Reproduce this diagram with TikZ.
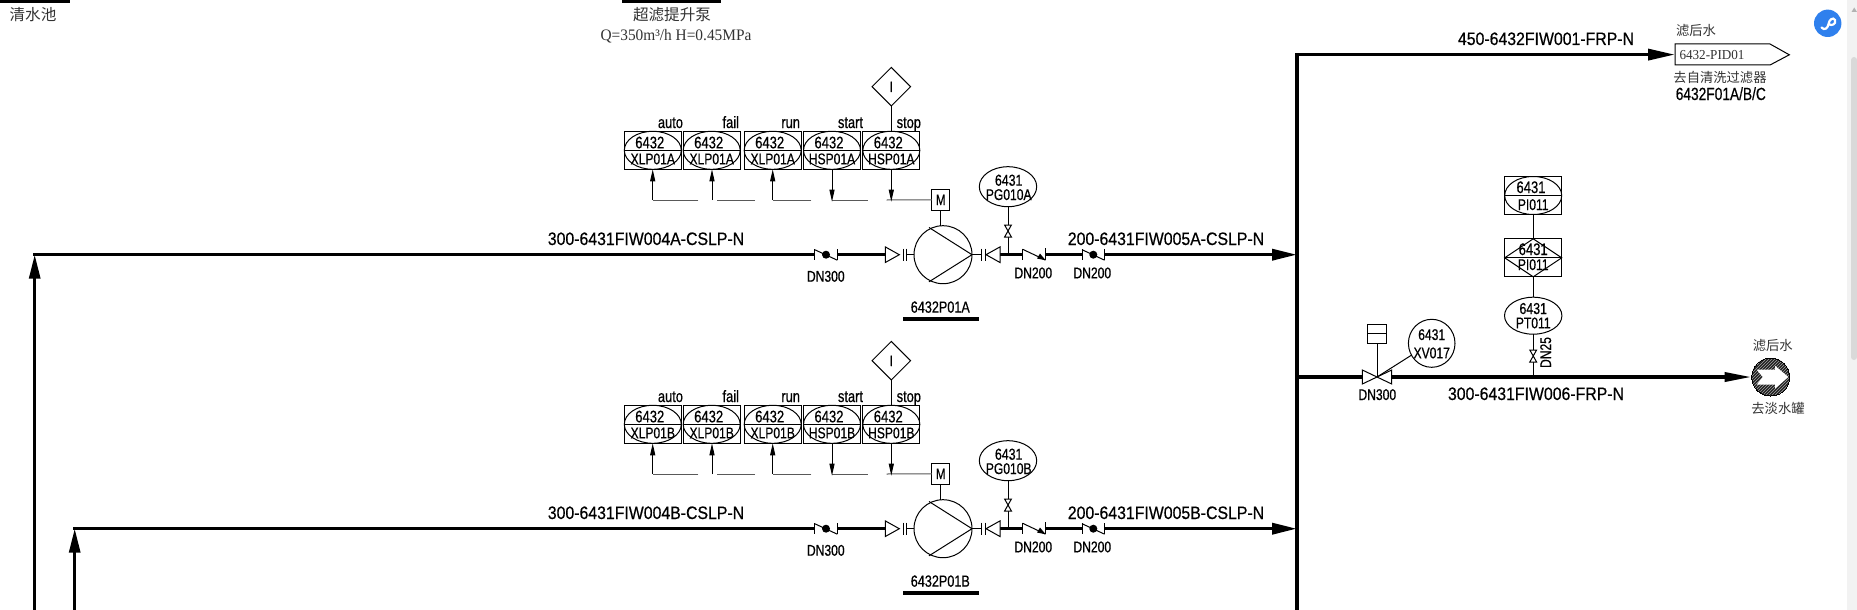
\documentclass[tikz,border=0pt]{standalone}
\usepackage{fontspec}
\usetikzlibrary{arrows.meta,patterns,shapes.geometric}
\setmainfont{Liberation Sans}
\newfontfamily\cad[FakeStretch=0.78,FakeBold=0.5]{Liberation Sans}
\newfontfamily\cadw[FakeStretch=0.88,FakeBold=0.5]{Liberation Sans}
\newfontfamily\ser[FakeStretch=0.96]{Liberation Serif}
\newfontfamily\cjk{Noto Sans CJK SC}
\definecolor{sig}{gray}{0.35}
\definecolor{cjkgray}{gray}{0.2}
\definecolor{linkblue}{HTML}{2F80ED}
\tikzset{
  x=1pt,y=-1pt,
  thin line/.style={line width=1pt,black},
  pipe/.style={line width=3.5pt,black},
  pipearrow/.style={pipe,-{Triangle[length=25pt,width=11pt]}},
  signal/.style={line width=1pt,sig},
  sigup/.style={line width=1pt,black,-{Triangle[length=12pt,width=5pt]}},
  txt/.style={inner sep=0pt,outer sep=0pt,anchor=base},
  tag/.style={txt,font=\cad\fontsize{15.5}{15.5}\selectfont},
  num/.style={txt,font=\cad\fontsize{16.7}{16.7}\selectfont},
  lab/.style={txt,anchor=base east,font=\cad\fontsize{16.5}{16.5}\selectfont},
  pipelabel/.style={txt,font=\cadw\fontsize{18}{18}\selectfont},
  cn/.style={inner sep=0pt,outer sep=0pt,text=cjkgray,font=\cjk\fontsize{13.3}{13.3}\selectfont},
  cnbig/.style={inner sep=0pt,outer sep=0pt,text=cjkgray,font=\cjk\fontsize{15.6}{15.6}\selectfont},
  box/.style={draw,thin line,inner sep=0pt,outer sep=0pt,minimum width=57pt,minimum height=38pt},
}
% instrument in a square: name, centre x, centre y, upper text, lower text
\newcommand{\instrbox}[5]{%
  \node[box] (#1) at (#2,#3) {};
  \draw[thin line] (#1.center) ellipse [x radius=28.5pt,y radius=19pt];
  \draw[thin line] (#1.west) -- (#1.east);
  \node[num] (#1u) at ([shift={(-3,-2)}]#1.center) {#4};
  \node[tag] (#1l) at ([shift={(0,14)}]#1.center) {#5};
}
\newcommand{\bowtieV}[2]{%
  \draw[thin line,fill=white] (#1-3.4,#2-6) -- (#1+3.4,#2-6) -- (#1-3.4,#2+6) -- (#1+3.4,#2+6) -- cycle;
}
\newcommand{\dotcheck}[2]{% left x, pipe y
  \draw[thin line] (#1,#2-5.5) -- (#1,#2+5.5);
  \draw[thin line] (#1+22.6,#2-5.5) -- (#1+22.6,#2+5.5);
  \draw[thin line] (#1,#2-5) -- (#1+22.6,#2+5.5);
  \fill (#1+11.3,#2) circle (4pt);
}
\newcommand{\pumptrain}[2]{%
\begin{scope}[shift={(0,#2)}]
  % pipe
  \coordinate (c#1) at (814.7,254.7);
  \coordinate (d#1) at (837.3,254.7);
  \coordinate (e#1) at (885.3,254.7);
  \coordinate (f#1) at (1000,254.7);
  \coordinate (g#1) at (1022.7,254.7);
  \coordinate (h#1) at (1045.3,254.7);
  \coordinate (i#1) at (1082,254.7);
  \coordinate (j#1) at (1104.6,254.7);
  \coordinate (k#1) at (1297,254.7);
  \draw[pipe] (d#1) -- (e#1);
  \draw[pipe] (f#1) -- (g#1);
  \draw[pipe] (h#1) -- (i#1);
  \draw[pipearrow] (j#1) -- (k#1);
  \dotcheck{814.7}{254.7}
  \dotcheck{1082}{254.7}
  % nozzle check valve
  \draw[thin line] (1022.7,248.7) -- (1022.7,260);
  \draw[thin line] (1045.3,248) -- (1045.3,259.5);
  \draw[thin line] (1022.7,249.3) -- (1045.3,260);
  \fill (1045.6,260.3) -- (1037,258.5) -- (1040,253.5) -- cycle;
  % pump
  \node[draw,thin line,circle,minimum size=58pt,inner sep=0pt,outer sep=0pt] (pump#1) at (943,254.7) {};
  \draw[thin line] (929,227.5) -- (pump#1.east) -- (929,281.8);
  \draw[thin line,fill=white] (885.3,246.9) -- (885.3,262.5) -- (899.3,254.7) -- cycle;
  \draw[thin line] (903.4,248.7) -- (903.4,260.7);
  \draw[thin line] (906.6,248.7) -- (906.6,260.7);
  \draw[thin line] (906.6,254.7) -- (pump#1.west);
  \draw[thin line] (pump#1.east) -- (981.3,254.7);
  \draw[thin line] (981.3,248.7) -- (981.3,260.7);
  \draw[thin line] (985.7,248.7) -- (985.7,260.7);
  \draw[thin line,fill=white] (1000,246.9) -- (1000,262.5) -- (986,254.7) -- cycle;
  % motor
  \node[draw,thin line,minimum width=17.5pt,minimum height=21pt,inner sep=0pt,outer sep=0pt] (motor#1) at (940.7,199.8) {};
  \node[txt,font=\cad\fontsize{15}{15}\selectfont] (mtext#1) at (940.7,205) {M};
  \draw[thin line] (motor#1.south) -- (motor#1.south |- pump#1.north);
  % pressure gauge
  \node[draw,thin line,ellipse,minimum width=57.4pt,minimum height=40pt,inner sep=0pt,outer sep=0pt] (pg#1) at (1008,186.7) {};
  \node[num,font=\cad\fontsize{15.8}{15.8}\selectfont] (pgu#1) at (1008.7,185.7) {6431};
  \node[tag] (pgl#1) at (1008.7,200) {PG010#1};
  \coordinate (pgroot#1) at (1008,254.7);
  \draw[thin line] (pg#1.south) -- (pgroot#1);
  \bowtieV{1008}{231}
  % instruments
  \instrbox{xa#1}{652.8}{150.3}{6432}{XLP01#1}
  \instrbox{xb#1}{711.7}{150.3}{6432}{XLP01#1}
  \instrbox{xc#1}{772.7}{150.3}{6432}{XLP01#1}
  \instrbox{ha#1}{832}{150.3}{6432}{HSP01#1}
  \instrbox{hb#1}{891.3}{150.3}{6432}{HSP01#1}
  \node[lab] (la#1) at (683,128) {auto};
  \node[lab] (lb#1) at (739,128) {fail};
  \node[lab] (lc#1) at (800,128) {run};
  \node[lab] (ld#1) at (863,128) {start};
  \node[lab] (le#1) at (921,128) {stop};
  % interlock
  \node[draw,thin line,diamond,minimum width=38.5pt,minimum height=38.5pt,inner sep=0pt,outer sep=0pt] (il#1) at (891.3,86.7) {};
  \node[txt,font=\cad\fontsize{15}{15}\selectfont] (iltext#1) at (891.3,92) {I};
  \draw[thin line] (il#1.south) -- (hb#1.north);
  % signal lines
  \coordinate (sa#1) at (652.7,200);
  \coordinate (sb#1) at (712,200);
  \coordinate (sc#1) at (772.7,200);
  \coordinate (sd#1) at (832,201.7);
  \coordinate (se#1) at (891.3,201.7);
  \draw[signal] (motor#1.west) -- (886.7,200);
  \draw[signal] (867.7,200) -- (832,200);
  \draw[signal] (811.3,200) -- (772.7,200);
  \draw[signal] (755,200) -- (716.7,200);
  \draw[signal] (698.3,200) -- (652.7,200);
  \draw[sigup] (sa#1) -- (sa#1 |- xa#1.south);
  \draw[sigup] (sb#1) -- (sb#1 |- xb#1.south);
  \draw[sigup] (sc#1) -- (sc#1 |- xc#1.south);
  \draw[sigup] (ha#1.south) -- (sd#1);
  \draw[sigup] (hb#1.south) -- (se#1);
  % labels
  \node[pipelabel] (pl1#1) at (646,245) {300-6431FIW004#1-CSLP-N};
  \node[pipelabel] (pl2#1) at (1166,245) {200-6431FIW005#1-CSLP-N};
  \node[tag] (dn1#1) at (825.8,281.7) {DN300};
  \node[tag] (dn2#1) at (1033.3,278.3) {DN200};
  \node[tag] (dn3#1) at (1092.3,278.3) {DN200};
  \node[txt,font=\cad\fontsize{16.2}{16.2}\selectfont] (pn#1) at (940.3,312.7) {6432P01#1};
  \coordinate (ua#1) at (903.3,319);
  \coordinate (ub#1) at (979,319);
  \draw[pipe] (ua#1) -- (ub#1);
\end{scope}}
\begin{document}
\begin{tikzpicture}
\useasboundingbox (0,0) rectangle (1857,610);
\fill[white] (0,0) rectangle (1857,610);
% top-left cut-off items
\fill (0,0) rectangle (70,3);
\fill (622.4,0) rectangle (721.4,3);
\node[cnbig] (t1) at (33,15) {清水池};
\node[cnbig] (t2) at (672,15) {超滤提升泵};
\node[txt,text=cjkgray,font=\ser\fontsize{16}{16}\selectfont] (t3) at (676,41) {Q=350m³/h H=0.45MPa};
% pump trains
\pumptrain{A}{0}
\pumptrain{B}{274}
% suction lines
\coordinate (sA0) at (34.7,610);
\coordinate (sA1) at (34.7,254.7);
\coordinate (sB0) at (74.7,610);
\coordinate (sB1) at (74.7,528.7);
\draw[pipe,line width=3pt,-{Triangle[length=24pt,width=11pt]}] (sA0) -- (sA1);
\draw[pipe,line width=3pt,-{Triangle[length=24pt,width=11pt]}] (sB0) -- (sB1);
\draw[pipe] (33.4,254.7) -- (cA);
\draw[pipe] (73.4,528.7) -- (cB);
% main header
\coordinate (tagc) at (1675,54.6);
\coordinate (m0) at (1297,610);
\coordinate (m1) at (1297,54.6);
\draw[pipe,line join=miter,-{Triangle[length=27pt,width=11pt]}] (m0) -- (m1) -- (tagc);
% outlet tag
\draw[thin line] (1675,44) -- (1770,44) -- (1789.3,54.8) -- (1770,65) -- (1675,65) -- cycle;
\node[txt,text=cjkgray,font=\ser\fontsize{13.7}{13.7}\selectfont] (tag1) at (1712,59.3) {6432-PID01};
\node[cn] (tag2) at (1696,30) {滤后水};
\node[cn] (tag3) at (1720,77.3) {去自清洗过滤器};
\node[txt,font=\cad\fontsize{17.6}{17.6}\selectfont] (tag4) at (1720.8,100) {6432F01A/B/C};
\node[pipelabel] (pl3) at (1546,45) {450-6432FIW001-FRP-N};
% branch to fresh water tank
\coordinate (b0) at (1297,377);
\coordinate (b1) at (1362.3,377);
\coordinate (b2) at (1391.7,377);
\node[draw,line width=0pt,circle,minimum size=38pt,inner sep=0pt,outer sep=0pt,preaction={fill=black!88},pattern=north east lines,pattern color=gray!70] (term) at (1770.7,377) {};
\fill[white] (1756.7,369.7) -- (1775,369.7) -- (1775,365.7) -- (1788.3,377) -- (1775,388.7) -- (1775,384.7) -- (1756.7,384.7) -- (1762.7,377) -- cycle;
\draw[pipe] (b0) -- (b1);
\draw[pipe,-{Triangle[length=27pt,width=9pt]}] (b2) -- (term.west);
\node[cn] (e1) at (1772.7,345) {滤后水};
\node[cn] (e2) at (1778,408) {去淡水罐};
\node[pipelabel] (pl4) at (1536,400) {300-6431FIW006-FRP-N};
% control valve
\draw[thin line,fill=white] (b1) -- ++(0,-7) -- ++(29.4,14) -- ++(0,-14) -- ++(-29.4,14) -- cycle;
\node[tag] (dn4) at (1377.3,400) {DN300};
\node[draw,thin line,inner sep=0pt,outer sep=0pt,minimum width=19.4pt,minimum height=19pt] (act) at (1377,333.8) {};
\draw[thin line] (act.west) -- (act.east);
\coordinate (vc) at (1377,377);
\draw[thin line] (act.south) -- (vc);
\node[draw,thin line,ellipse,minimum width=46.6pt,minimum height=48pt,inner sep=0pt,outer sep=0pt] (xv) at (1431.7,343.3) {};
\node[tag] (xv1) at (1431.7,340) {6431};
\node[tag] (xv2) at (1431.7,358.3) {XV017};
\draw[thin line] (vc) -- (1411.7,355);
% pressure instruments
\node[box] (pi) at (1533.2,195.5) {};
\draw[thin line] (pi.center) ellipse [x radius=28.5pt,y radius=19pt];
\draw[thin line] (pi.west) -- (pi.east);
\node[num] (pi1) at (1531,193) {6431};
\node[tag] (pi2) at (1533.2,210) {PI011};
\node[box] (pd) at (1533.2,257.8) {};
\draw[thin line] (pd.west) -- (pd.north) -- (pd.east) -- (pd.south) -- cycle;
\draw[thin line] (pd.west) -- (pd.east);
\node[num] (pd1) at (1533.2,255) {6431};
\node[tag] (pd2) at (1533.2,270) {PI011};
\node[draw,thin line,ellipse,minimum width=57.4pt,minimum height=37pt,inner sep=0pt,outer sep=0pt] (pt) at (1533.2,315.7) {};
\node[num,font=\cad\fontsize{15.8}{15.8}\selectfont] (pt1) at (1533.2,314) {6431};
\node[tag] (pt2) at (1533.2,328.3) {PT011};
\draw[thin line] (pi.south) -- (pd.north);
\draw[thin line] (pd.south) -- (pt.north);
\coordinate (ptroot) at (1533.2,377);
\draw[thin line] (pt.south) -- (ptroot);
\bowtieV{1533.2}{356}
\node[txt,rotate=90,anchor=center,font=\cad\fontsize{15.5}{15.5}\selectfont] (dn25) at (1545.7,352.5) {DN25};
% browser chrome
\fill[gray!10] (1847.3,0) rectangle (1857,610);
\fill[gray!30,rounded corners=3pt] (1851,57) rectangle (1857,360);
\fill[gray!60] (1851.5,12) -- (1857,12) -- (1854.2,7.5) -- cycle;
\fill[linkblue] (1827.7,23.3) circle (13.7pt);
\draw[white,line width=2.2pt,line cap=round] (1821.5,27.5) .. controls (1824.5,31) and (1828,28) .. (1828.5,24) .. controls (1829,20) and (1833,16.5) .. (1835,20) .. controls (1836.5,24) and (1831.5,26.5) .. (1828.5,24);
\end{tikzpicture}
\end{document}
